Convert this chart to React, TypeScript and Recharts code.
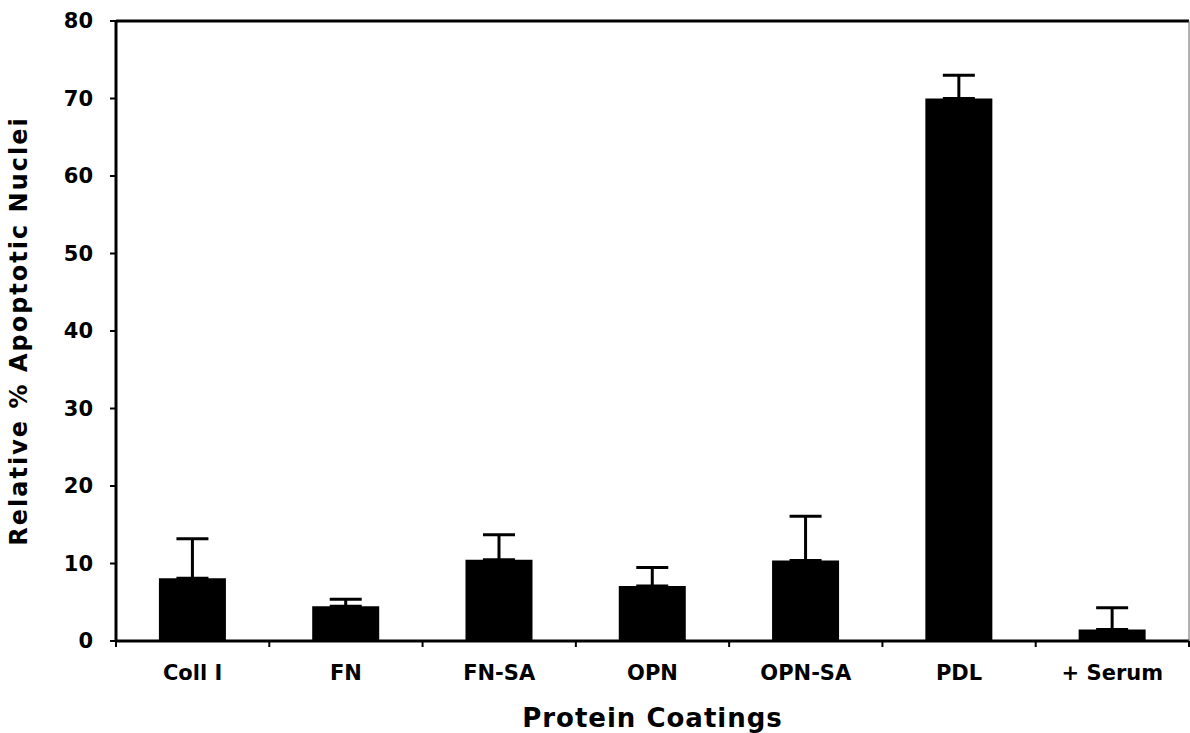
import { BarChart, Bar, XAxis, YAxis, ErrorBar, ReferenceLine } from 'recharts';

// protein coatings on the x axis
const categories = ['Coll I', 'FN', 'FN-SA', 'OPN', 'OPN-SA', 'PDL', '+ Serum'];
// relative % apoptotic nuclei (bar heights)
const means = [8.1, 4.5, 10.5, 7.1, 10.4, 70.0, 1.5];
// upward error (only the + side is drawn)
const errUp = [5.1, 0.9, 3.2, 2.4, 5.7, 3.0, 2.8];
const yTicks = [0, 10, 20, 30, 40, 50, 60, 70, 80];

const data = categories.map((name, i) => ({
  name,
  value: means[i],
  err: [0, errUp[i]],
}));

const font = '"DejaVu Sans", Arial, sans-serif';
const labelGap = 24;

// category label plus the small tick marks that sit on the boundaries between categories
function CategoryTick(props: any) {
  const { x, y, payload } = props;
  const half = payload && payload.offset ? payload.offset : 0;
  const axisY = y - labelGap;
  return (
    <g>
      {payload.index === 0 && (
        <line x1={x - half} x2={x - half} y1={axisY} y2={axisY + 6} stroke="#000" strokeWidth={2} />
      )}
      <line x1={x + half} x2={x + half} y1={axisY} y2={axisY + 6} stroke="#000" strokeWidth={2} />
      <text x={x} y={y} dy="0.71em" textAnchor="middle" fill="#000" fontSize={21} fontWeight="bold" fontFamily={font}>
        {payload.value}
      </text>
    </g>
  );
}

function App() {
  return (
    <div style={{ position: 'absolute', left: 0, top: 0, background: '#fff' }}>
      <BarChart
        width={1190}
        height={733}
        data={data}
        margin={{ top: 21, right: 0, bottom: 0, left: 0 }}
        barCategoryGap="28%"
      >
        <XAxis
          dataKey="name"
          height={92}
          interval={0}
          axisLine={{ stroke: '#000', strokeWidth: 3 }}
          tickLine={false}
          tickSize={0}
          tickMargin={labelGap}
          tick={<CategoryTick />}
          label={{
            value: 'Protein Coatings',
            position: 'insideBottom',
            offset: 6,
            style: { fill: '#000', fontSize: 26, fontWeight: 'bold', fontFamily: font, letterSpacing: 1 },
          }}
        />
        <YAxis
          width={116}
          domain={[0, 80]}
          ticks={yTicks}
          interval={0}
          axisLine={{ stroke: '#000', strokeWidth: 3 }}
          tickLine={{ stroke: '#000', strokeWidth: 2 }}
          tickSize={6}
          tickMargin={17}
          tick={{ fill: '#000', fontSize: 21, fontWeight: 'bold', fontFamily: font }}
          label={{
            value: 'Relative % Apoptotic Nuclei',
            angle: -90,
            position: 'insideLeft',
            offset: 18,
            style: { textAnchor: 'middle', fill: '#000', fontSize: 24, fontWeight: 'bold', fontFamily: font, letterSpacing: 2 },
          }}
        />
        <YAxis
          yAxisId="right"
          orientation="right"
          width={1}
          domain={[0, 80]}
          tick={false}
          tickLine={false}
          axisLine={{ stroke: '#666', strokeWidth: 1 }}
        />
        <ReferenceLine y={80} stroke="#000" strokeWidth={3} />
        <Bar dataKey="value" fill="#000" isAnimationActive={false}>
          <ErrorBar dataKey="err" direction="y" width={16} stroke="#000" strokeWidth={3} isAnimationActive={false} />
        </Bar>
      </BarChart>
    </div>
  );
}

export default App;
